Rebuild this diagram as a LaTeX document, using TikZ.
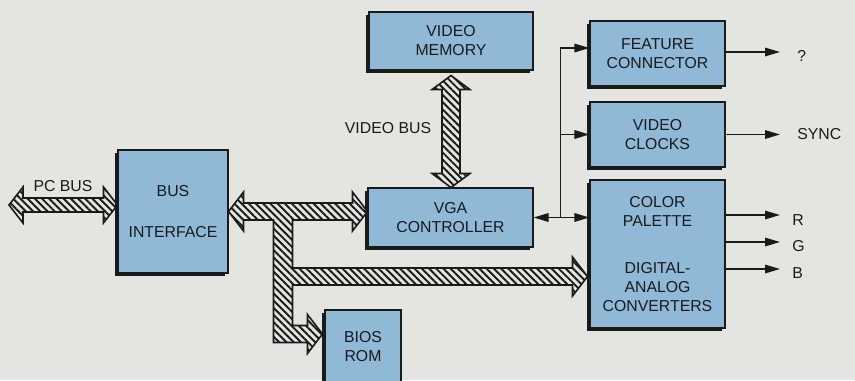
\documentclass[tikz,border=0pt]{standalone}
\usepackage{fontspec}
\setmainfont{Liberation Sans}
\usetikzlibrary{positioning, arrows.meta, calc, shadows, patterns.meta}
\definecolor{paperGray}{HTML}{E4E4E0}
\definecolor{boxBlue}{HTML}{8FB9D6}
\definecolor{inkBlack}{HTML}{1A1A1A}

\begin{document}
\begin{tikzpicture}[x=0.02cm, y=-0.02cm,
    block/.style={draw=inkBlack, line width=0.6pt, rectangle, fill=boxBlue, text=inkBlack, align=center, font=\fontsize{9}{10.8}\selectfont, inner sep=2pt, drop shadow={shadow xshift=-0.06cm, shadow yshift=-0.06cm, fill=inkBlack, opacity=1}},
    tag/.style={text=inkBlack, font=\fontsize{9}{10.8}\selectfont, inner sep=0pt},
    bus/.style={draw=inkBlack, line width=0.9pt, line join=miter, pattern={Lines[angle=-45, distance=2.9pt, line width=1.1pt]}, pattern color=inkBlack},
    sig/.style={draw=inkBlack, line width=0.9pt, -{Triangle[length=0.3cm, width=0.17cm]}},
]
\path[use as bounding box, fill=paperGray] (0,0) rectangle (855,380);
\node[block, minimum width=2.2cm, minimum height=2.46cm] (busif) at (173,211.5) {BUS\\[13pt]INTERFACE};
\node[block, minimum width=3.3cm, minimum height=1.18cm] (vga) at (450.5,217.5) {VGA\\CONTROLLER};
\node[block, minimum width=3.28cm, minimum height=1.16cm] (vmem) at (451,41) {VIDEO\\MEMORY};
\node[block, minimum width=2.7cm, minimum height=1.3cm] (feat) at (657.5,53.5) {FEATURE\\CONNECTOR};
\node[block, minimum width=2.7cm, minimum height=1.3cm] (clk) at (657.5,134.5) {VIDEO\\CLOCKS};
\node[block, minimum width=2.7cm, minimum height=2.96cm] (pal) at (657.5,254) {COLOR\\PALETTE\\[16pt]DIGITAL-\\ANALOG\\CONVERTERS};
\node[block, minimum width=1.52cm, minimum height=1.46cm] (bios) at (363,346.5) {BIOS\\ROM};

\node[tag] (pclbl) at (63,186) {PC BUS};
\node[tag] (vblbl) at (388,128) {VIDEO BUS};
\node[tag, anchor=west] (qlbl) at (797,56) {?};
\node[tag, anchor=west] (synclbl) at (797,134) {SYNC};
\node[tag, anchor=west] (rlbl) at (792,220) {R};
\node[tag, anchor=west] (glbl) at (792,246) {G};
\node[tag, anchor=west] (blbl) at (792,273) {B};

\coordinate (pcEnd) at (9,205);
\coordinate (pcR) at (busif.west |- pcEnd);
\draw[bus] (pcEnd) -- ++(14,-18) -- ++(0,11) -- ($(pcR)+(-14,-7)$) -- ++(0,-11) -- (pcR)
  -- ++(-14,18) -- ++(0,-11) -- ($(pcEnd)+(14,7)$) -- ++(0,11) -- cycle;

\coordinate (busL) at (busif.east);
\coordinate (busR) at (vga.west |- busL);
\coordinate (legL) at ($(busL)+(45,0)$);
\coordinate (legR) at ($(busL)+(64,0)$);
\coordinate (dacTip) at ($(pal.west)+(-2,22.5)$);
\coordinate (romTip) at ($(bios.west)+(-2,-12.5)$);
\draw[bus] (busL) -- ++(15,-19.5) -- ++(0,11) -- ($(busR)+(-15,-8.5)$) -- ++(0,-11) -- (busR)
  -- ++(-15,19.5) -- ++(0,-11) -- ($(legR)+(0,8.5)$)
  -- ($(legR |- dacTip)+(0,-8.5)$) -- ($(dacTip)+(-15,-8.5)$) -- ++(0,-11) -- (dacTip)
  -- ++(-15,19.5) -- ++(0,-11) -- ($(legR |- dacTip)+(0,8.5)$)
  -- ($(legR |- romTip)+(0,-8.5)$) -- ($(romTip)+(-15,-8.5)$) -- ++(0,-11) -- (romTip)
  -- ++(-15,19.5) -- ++(0,-11) -- ($(legL |- romTip)+(0,8.5)$)
  -- ($(legL)+(0,8.5)$) -- ($(busL)+(15,8.5)$) -- ++(0,11) -- cycle;

\coordinate (vbTop) at ($(vmem.south)+(0,5)$);
\coordinate (vbBot) at (vbTop |- vga.north);
\draw[bus] (vbTop) -- ++(19,14) -- ++(-10,0) -- ($(vbBot)+(9,-14)$) -- ++(10,0) -- (vbBot)
  -- ++(-19,-14) -- ++(10,0) -- ($(vbTop)+(-9,14)$) -- ++(-10,0) -- cycle;

\coordinate (split) at ($(vga.east)+(27,0)$);
\coordinate (outx) at (780,0);
\draw[sig] (split) -- (vga.east);
\draw[sig] (split) -- (split -| pal.west);
\draw[sig] (split) |- ($(feat.west)+(0,-5.5)$);
\draw[sig] (split |- clk.west) -- (clk.west);

\coordinate (qout) at ($(feat.east)+(0,-1.5)$);
\coordinate (rout) at ($(pal.east)+(0,-39)$);
\coordinate (gout) at ($(pal.east)+(0,-12)$);
\coordinate (bout) at ($(pal.east)+(0,15)$);
\draw[sig] (qout) -- (qout -| outx);
\draw[sig] (clk.east) -- (clk.east -| outx);
\draw[sig] (rout) -- (rout -| outx);
\draw[sig] (gout) -- (gout -| outx);
\draw[sig] (bout) -- (bout -| outx);
\end{tikzpicture}
\end{document}
